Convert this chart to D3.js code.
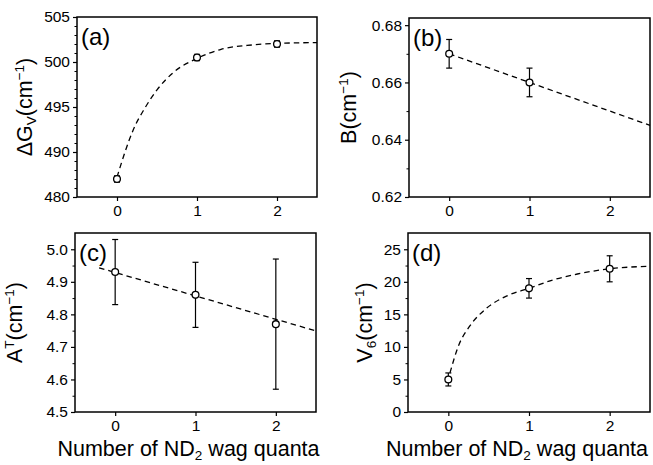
<!DOCTYPE html>
<html>
<head>
<meta charset="utf-8">
<script src="https://cdn.jsdelivr.net/npm/d3@7"></script>
<style>
  html, body { margin: 0; padding: 0; background: #fff; }
  svg { display: block; }
  text { font-family: "Liberation Sans", Arial, sans-serif; fill: #000; }
</style>
</head>
<body>
<svg id="chart" width="653" height="465"></svg>
<script>
// Number of ND2 wag quanta on every x axis
const quanta = [0, 1, 2];
const xTicks = [0, 1, 2];

// (a) vibrational interval ΔGv
const dGv = [487.0, 500.5, 502.0];
const dGvErr = [0.35, 0.35, 0.35];
const dGvTicks = [485, 490, 495, 500, 505];
const dGvTickLabels = ["480", "490", "495", "500", "505"];
const dGvFitX = [0, 0.1, 0.2, 0.35, 0.5, 0.7, 1.0, 1.3, 1.7, 2.1, 2.5];
const dGvFitY = [487.2, 490.0, 492.4, 494.9, 496.9, 498.8, 500.4, 501.4, 501.9, 502.1, 502.15];

// (b) rotational constant B
const bQuanta = [0, 1];
const bVals = [0.670, 0.660];
const bErr = [0.005, 0.005];
const bTicks = [0.62, 0.64, 0.66, 0.68];
const bTickLabels = ["0.62", "0.64", "0.66", "0.68"];
const bFitX = [0, 2.5];
const bFitY = [0.670, 0.645];

// (c) torsional constant A^T
const aVals = [4.93, 4.86, 4.77];
const aErr = [0.10, 0.10, 0.20];
const aTicks = [4.5, 4.6, 4.7, 4.8, 4.9, 5.0];
const aTickLabels = ["4.5", "4.6", "4.7", "4.8", "4.9", "5.0"];
const aFitX = [-0.2, 2.5];
const aFitY = [4.943, 4.749];

// (d) sixfold barrier V6
const v6Vals = [5, 19, 22];
const v6Err = [1.0, 1.5, 2.0];
const v6Ticks = [0, 5, 10, 15, 20, 25];
const v6TickLabels = ["0", "5", "10", "15", "20", "25"];
const v6FitX = [0.02, 0.13, 0.26, 0.47, 0.72, 1.0, 1.3, 1.6, 2.0, 2.5];
const v6FitY = [6.0, 10.3, 13.1, 15.9, 17.8, 19.0, 20.3, 21.2, 22.0, 22.4];

const svg = d3.select("#chart");

const panels = [
  { tag: "(a)", box: { l: 77, r: 317, t: 17, b: 197 }, yDomain: [485, 505],
    ticks: dGvTicks, labels: dGvTickLabels, minor: d3.range(486, 505, 1).filter(v => v % 5 !== 0),
    xs: quanta, ys: dGv, err: dGvErr, fitX: dGvFitX, fitY: dGvFitY, curve: d3.curveMonotoneX,
    title: [["ΔG", 0], ["V", "sub"], ["(cm", 0], ["−1", "sup"], [")", 0]], titleX: 32, xTitleShift: 0 },
  { tag: "(b)", box: { l: 409, r: 650, t: 18, b: 197 }, yDomain: [0.62, 0.6825],
    ticks: bTicks, labels: bTickLabels, minor: [0.63, 0.65, 0.67],
    xs: bQuanta, ys: bVals, err: bErr, fitX: bFitX, fitY: bFitY, curve: d3.curveLinear,
    title: [["B(cm", 0], ["−1", "sup"], [")", 0]], titleX: 356, xTitleShift: 0 },
  { tag: "(c)", box: { l: 75, r: 316, t: 233, b: 412 }, yDomain: [4.5, 5.05],
    ticks: aTicks, labels: aTickLabels, minor: [4.55, 4.65, 4.75, 4.85, 4.95],
    xs: quanta, ys: aVals, err: aErr, fitX: aFitX, fitY: aFitY, curve: d3.curveLinear,
    title: [["A", 0], ["T", "sup"], ["(cm", 0], ["−1", "sup"], [")", 0]], titleX: 22, xTitleShift: -7 },
  { tag: "(d)", box: { l: 408, r: 650, t: 233, b: 412 }, yDomain: [0, 27.5],
    ticks: v6Ticks, labels: v6TickLabels, minor: [2.5, 7.5, 12.5, 17.5, 22.5],
    xs: quanta, ys: v6Vals, err: v6Err, fitX: v6FitX, fitY: v6FitY, curve: d3.curveMonotoneX,
    title: [["V", 0], ["6", "sub"], ["(cm", 0], ["−1", "sup"], [")", 0]], titleX: 372, xTitleShift: -12 }
];

panels.forEach(p => {
  const { l, r, t, b } = p.box;
  const x = d3.scaleLinear().domain([-0.5, 2.5]).range([l, r]);
  const y = d3.scaleLinear().domain(p.yDomain).range([b, t]);
  const g = svg.append("g");

  // frame
  g.append("rect").attr("x", l).attr("y", t).attr("width", r - l).attr("height", b - t)
    .attr("fill", "none").attr("stroke", "#000").attr("stroke-width", 1.5);

  // y axis: major + minor ticks
  const yAx = g.append("g").attr("transform", `translate(${l},0)`)
    .call(d3.axisLeft(y).tickValues(p.ticks).tickFormat((d, i) => p.labels[i])
      .tickSize(4).tickPadding(3));
  yAx.select(".domain").remove();
  yAx.selectAll("line").attr("stroke-width", 1.2);
  yAx.selectAll("text").attr("font-size", 15.5).attr("font-family", null);
  const yMin = g.append("g").attr("transform", `translate(${l},0)`)
    .call(d3.axisLeft(y).tickValues(p.minor).tickFormat("").tickSize(2.5));
  yMin.select(".domain").remove();

  // x axis
  const xAx = g.append("g").attr("transform", `translate(0,${b})`)
    .call(d3.axisBottom(x).tickValues(xTicks).tickFormat(d3.format("d"))
      .tickSize(4).tickPadding(4));
  xAx.select(".domain").remove();
  xAx.selectAll("line").attr("stroke-width", 1.2);
  xAx.selectAll("text").attr("font-size", 15.5).attr("font-family", null);

  // dashed fit curve
  const line = d3.line().x(d => x(d[0])).y(d => y(d[1])).curve(p.curve);
  g.append("path").datum(p.fitX.map((v, i) => [v, p.fitY[i]]))
    .attr("d", line).attr("fill", "none").attr("stroke", "#000")
    .attr("stroke-width", 1.3).attr("stroke-dasharray", "5.5,4");

  // error bars
  const pts = p.xs.map((v, i) => ({ x: v, y: p.ys[i], e: p.err[i] }));
  const eb = g.append("g").selectAll("g").data(pts).join("g");
  eb.append("line").attr("x1", d => x(d.x)).attr("x2", d => x(d.x))
    .attr("y1", d => y(d.y - d.e)).attr("y2", d => y(d.y + d.e))
    .attr("stroke", "#000").attr("stroke-width", 1.2);
  [-1, 1].forEach(s => {
    eb.append("line").attr("x1", d => x(d.x) - 3).attr("x2", d => x(d.x) + 3)
      .attr("y1", d => y(d.y + s * d.e)).attr("y2", d => y(d.y + s * d.e))
      .attr("stroke", "#000").attr("stroke-width", 1.2);
  });
  eb.append("circle").attr("cx", d => x(d.x)).attr("cy", d => y(d.y)).attr("r", 3.4)
    .attr("fill", "#fff").attr("stroke", "#000").attr("stroke-width", 1.3);

  // panel tag
  g.append("text").attr("x", l + 4).attr("y", t + 28).attr("font-size", 24)
    .text(p.tag);

  // y title
  const yt = g.append("text")
    .attr("transform", `translate(${p.titleX},${(t + b) / 2}) rotate(-90)`)
    .attr("text-anchor", "middle").attr("font-size", 21.5);
  p.title.forEach(([s, kind]) => {
    const ts = yt.append("tspan").text(s);
    if (kind === "sub") ts.attr("font-size", 13.5).attr("baseline-shift", "-25%");
    if (kind === "sup") ts.attr("font-size", 13.5).attr("baseline-shift", "60%");
  });

  // x title on the bottom row only
  if (p.xTitleShift) {
    const xt = g.append("text").attr("x", (l + r) / 2 + p.xTitleShift).attr("y", 456)
      .attr("text-anchor", "middle").attr("font-size", 21.5);
    xt.append("tspan").text("Number of ND");
    xt.append("tspan").text("2").attr("font-size", 13.5).attr("baseline-shift", "-25%");
    xt.append("tspan").text(" wag quanta");
  }
});
</script>
</body>
</html>
